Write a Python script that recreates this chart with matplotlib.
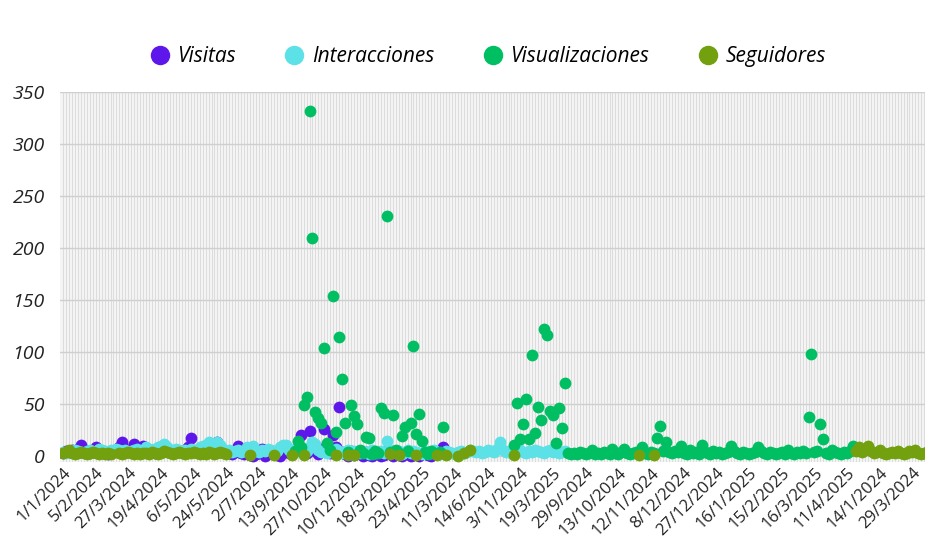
import matplotlib
matplotlib.use('Agg')
import matplotlib.pyplot as plt
from matplotlib.lines import Line2D
import numpy as np

# Dates shown on the axis (every 11th category of the date axis)
tick_labels = ['1/1/2024', '5/2/2024', '27/3/2024', '19/4/2024', '6/5/2024', '24/5/2024',
               '2/7/2024', '13/9/2024', '27/10/2024', '10/12/2024', '18/3/2025', '23/4/2025',
               '11/3/2024', '14/6/2024', '3/11/2024', '19/3/2025', '29/9/2024', '13/10/2024',
               '12/11/2024', '8/12/2024', '27/12/2024', '16/1/2025', '15/2/2025', '16/3/2025',
               '11/4/2025', '14/1/2024', '29/3/2024']
dates_per_label = 11
n_dates = 292

# Values per date (None = no value for that date)
visitas = [3, 5, 4, 6, 5, 7, 10, 6, 4, 3, 5, 8, 5, 4, 3, 2, 4, 5, 6, 8,
           13, 7, 5, 6, 11, 6, 5, 9, 4, 5, 6, 3, 4, 5, 7, 6, 5, 4, 6, 5,
           4, 6, 8, 17, 5, 4, 6, 3, 5, 4, 6, 7, 13, 6, 4, 3, 5, 2, 4, 9,
           3, 2, 4, 1, 0, 2, 3, 7, 0, 2, 5, 3, 1, 0, 4, 6, 3, 2, 5, 8,
           20, 6, 3, 24, 11, 5, 2, 7, 26, 4, 3, 20, 8, 47, 4, 2, 0, 5, 1, 3,
           2, 0, 4, 1, 0, 3, 2, 0, 1, 5, 2, 0, 3, 1, 0, 4, 2, 0, 1, 3,
           0, 2, 4, 1, 0, 3, 2, 5, 8] + [None] * 163

interacciones = [4, 3, 5, 4, 6, 5, 4, 3, 5, 6, 4, 5, 7, 6, 5, 4, 6, 5, 7, 6,
                 5, 6, 4, 5, 6, 7, 5, 6, 8, 7, 6, 7, 8, 9, 11, 8, 6, 5, 7, 6,
                 5, 6, 4, 7, 6, 5, 8, 9, 10, 13, 9, 8, 13, 10, 7, 5, 6, 4, 5, 6,
                 4, 5, 8, 6, 9, 5, 4, 6, 5, 7, 6, 4, 5, 8, 10, 10, 6, 4, 7, 5,
                 6, 4, 5, 8, 13, 11, 6, 4, 5, 3, 6, 4, 7, 5, 3, 4, 6, 3, 5, 4,
                 3, 5, 4, 2, 6, 3, 4, 5, 3, 14, 6, 4, 3, 5, 2, 4, 6, 3, 5, 4,
                 3, 2, 5, 4, 3, 6, 4, 2, 3, 5, 4, 3, 2, 4, 5, 3, 4, 6, 5, 4,
                 5, 3, 4, 6, 5, 4, 7, 13, 6, 4, 5, 3, 4, 5, 6, 4, 3, 5, 4, 6,
                 5, 4, 3, 5, 6, 4, 5, 3, 4, 5] + [None] * 122

visualizaciones = ([None] * 78 +
                   [5, 14, 8, 49, 57, 332, 210, 42, 36, 32, 104, 12, 6, 154, 23, 114, 74, 32, 4, 49,
                    38, 31, 6, 3, 18, 17, 2, 5, 3, 46, 41, 231, 4, 39, 6, 3, 19, 28, 5, 32,
                    106, 21, 40, 14, 4, 2, 5, 3, 2, 4, 28] +
                   [None] * 23 +
                   [10, 51, 16, 31, 55, 16, 97, 22, 47, 34, 122, 116, 43, 39, 12, 46, 27, 70, 3,
                    2, 3, 2, 4, 3, 2, 3, 6, 2, 3, 2, 4, 3, 2, 7, 3, 2, 4, 7, 3,
                    2, 3, 4, 2, 8, 3, 2, 4, 3, 17, 29, 5, 13, 4, 3, 5, 4, 9, 3, 2,
                    6, 3, 4, 2, 10, 4, 3, 2, 5, 3, 4, 2, 3, 4, 9, 5, 3, 2, 4, 3,
                    2, 3, 4, 8, 5, 3, 2, 4, 3, 2, 3, 4, 2, 6, 3, 2, 4, 3, 5, 3,
                    37, 98, 4, 5, 31, 16, 3, 2, 6, 4, 3, 2, 4, 3, 5, 9] +
                   [None] * 25)

seguidores = [None] * n_dates
seguidores[0:17] = [3, 4, 6, 3, 2, 3, 4, 3, 2, 3, 4, 3, 2, 3, 2, 3, 2]
seguidores[19:56] = [3, 2, 3, 4, 3, 2, 3, 2, 3, 3, 2, 4, 3, 2, 3, 5, 4, 3, 2, 3,
                     4, 3, 2, 3, 3, 4, 3, 2, 3, 2, 4, 3, 2, 3, 4, 3, 2]
seguidores_sueltos = {63: 1, 71: 1, 77: 1, 81: 1, 92: 1, 96: 1, 98: 1, 110: 2, 113: 1,
                      119: 1, 126: 1, 129: 1, 133: 0, 135: 3, 137: 6, 152: 1, 194: 1, 199: 1}
for k, v in seguidores_sueltos.items():
    seguidores[k] = v
seguidores[267:292] = [5, 8, 4, 6, 9, 5, 3, 4, 6, 3, 2, 3, 4, 3, 5, 3, 2, 3, 5, 4,
                       6, 3, 2, 3, 4]

series = [
    ('Visitas', visitas, '#5e17eb'),
    ('Interacciones', interacciones, '#5ce1e6'),
    ('Visualizaciones', visualizaciones, '#00bf63'),
    ('Seguidores', seguidores, '#72a00e'),
]

plt.rcParams['font.family'] = ['Open Sans', 'DejaVu Sans']

fig = plt.figure(figsize=(9.25, 5.46), dpi=100)
# the chart runs past the right edge of the image (cropped like the original)
ax = fig.add_axes([0.0649, 0.1538, 0.9665, 0.6777])
ax.set_facecolor('#f4f4f4')

for name, values, color in series:
    y = np.array([np.nan if v is None else v for v in values], dtype=float)
    x = np.arange(len(y))
    mask = ~np.isnan(y)
    ax.scatter(x[mask], y[mask], s=72, color=color, linewidths=0, zorder=3)

ax.set_xlim(-1, 300)
ax.set_ylim(-6, 350)

ax.set_xticks(np.arange(len(tick_labels)) * dates_per_label)
ax.set_xticklabels(tick_labels, rotation=45, ha='right', rotation_mode='anchor', fontsize=12, color='#222222')
ax.set_xticks(np.arange(300), minor=True)
ax.tick_params(axis='x', which='both', length=0, pad=2)
ax.grid(axis='x', which='both', color='#d8d8d8', linewidth=0.6, zorder=0)

ax.set_yticks(np.arange(0, 351, 50))
ax.set_yticklabels([str(v) for v in range(0, 351, 50)], fontsize=14, fontstyle='italic', color='#222222')
ax.tick_params(axis='y', length=0, pad=11)
ax.grid(axis='y', which='major', color='#cfcfcf', linewidth=1, zorder=1)
ax.set_axisbelow(True)

for s in ax.spines.values():
    s.set_visible(False)

handles = [Line2D([], [], marker='o', linestyle='none', markersize=14, markerfacecolor=c,
                  markeredgewidth=0) for _, _, c in series]
fig.legend(handles, [n for n, _, _ in series], loc='center', bbox_to_anchor=(0.527, 0.896), ncol=4,
           frameon=False, prop={'size': 15, 'style': 'italic'}, handletextpad=0.35,
           columnspacing=2.3, handlelength=1.0)

fig.savefig('out.png', dpi=100)
